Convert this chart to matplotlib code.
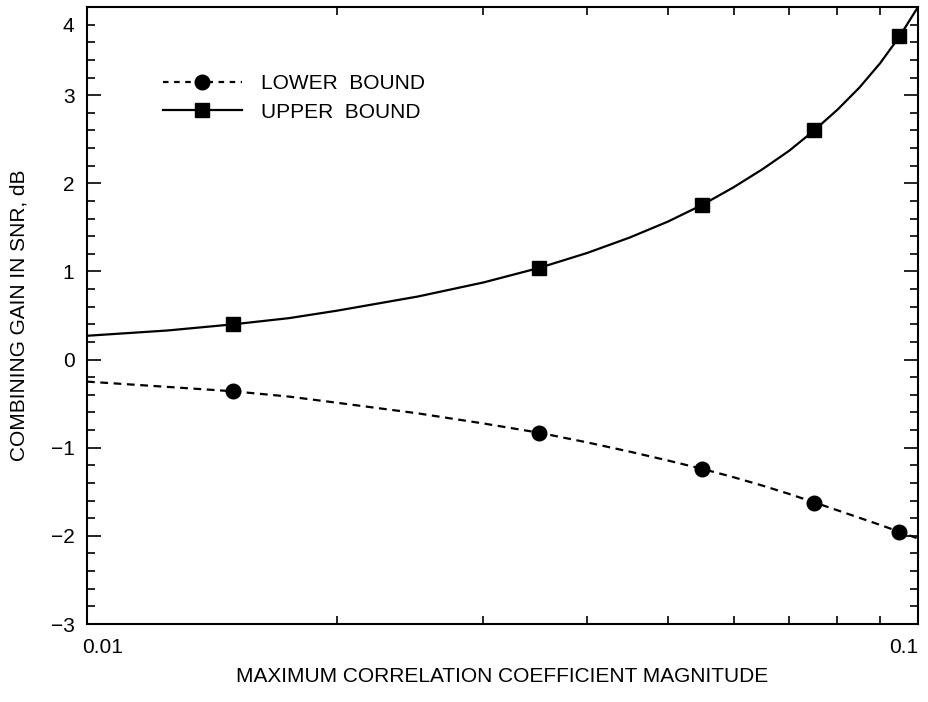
import numpy as np
import matplotlib
matplotlib.use("Agg")
import matplotlib.pyplot as plt
import matplotlib.transforms as mt
from matplotlib.lines import Line2D
from matplotlib.ticker import FixedLocator, FuncFormatter, NullFormatter

plt.rcParams['font.family'] = ['Liberation Sans', 'DejaVu Sans']

# marker points
x_marks = [0.015, 0.035, 0.055, 0.075, 0.095]
upper_marks = [0.40, 1.04, 1.75, 2.60, 3.67]
lower_marks = [-0.36, -0.83, -1.24, -1.625, -1.955]

# curves
x_curve = [0.01, 0.0125, 0.015, 0.0175, 0.02, 0.025, 0.03, 0.035, 0.04, 0.045,
           0.05, 0.055, 0.06, 0.065, 0.07, 0.075, 0.08, 0.085, 0.09, 0.095, 0.1]
upper_curve = [0.27, 0.33, 0.40, 0.47, 0.555, 0.715, 0.875, 1.04, 1.21, 1.385,
               1.565, 1.755, 1.955, 2.16, 2.37, 2.60, 2.835, 3.085, 3.36, 3.665, 4.00]
lower_curve = [-0.25, -0.31, -0.36, -0.42, -0.49, -0.61, -0.725, -0.83, -0.94, -1.045,
               -1.145, -1.24, -1.335, -1.43, -1.525, -1.62, -1.71, -1.795, -1.875, -1.955, -2.03]

y_major = [-3, -2, -1, 0, 1, 2, 3]
y_extra_label = {3.8: '4'}
x_labels = {0.01: '0.01', 0.1: '0.1'}

fig = plt.figure(figsize=(9.29, 7.02), dpi=100)
ax = fig.add_axes([87/929, 78/702, 831/929, 617/702])

ax.set_xscale('log')
ax.set_xlim(0.01, 0.1)
ax.set_ylim(-3, 4)

# curves
ax.plot(x_curve, upper_curve, color='black', lw=1.6, solid_joinstyle='round')
ax.plot(x_curve, lower_curve, color='black', lw=1.6, dashes=(3.5, 2.5))
# markers
ax.plot(x_marks, lower_marks, 'o', color='black', ms=10.5, ls='none')
ax.plot(x_marks, upper_marks, 's', color='black', ms=10.5, ls='none')

# legend
h1 = Line2D([], [], color='black', lw=1.6, dashes=(2.5, 2.5), marker='o', ms=10.5)
h2 = Line2D([], [], color='black', lw=1.6, marker='s', ms=10.5)
leg = ax.legend([h1, h2], ['LOWER  BOUND', 'UPPER  BOUND'], loc='upper left',
                bbox_to_anchor=(0.091, 0.891), frameon=False, fontsize=15,
                handlelength=3.8, handletextpad=0.9, labelspacing=0.45,
                borderpad=0, borderaxespad=0, numpoints=1)

# ticks
for s in ax.spines.values():
    s.set_linewidth(1.5)

ax.yaxis.set_major_locator(FixedLocator(y_major))
ax.yaxis.set_major_formatter(FuncFormatter(lambda v, p: ('%d' % round(v)).replace('-', '\u2212')))
yminor = [v / 5 for v in range(-15, 20) if v % 5 != 0]
ax.yaxis.set_minor_locator(FixedLocator(yminor))
ax.yaxis.set_minor_formatter(FuncFormatter(
    lambda v, p: next((t for k, t in y_extra_label.items() if abs(v - k) < 1e-6), '')))

ax.xaxis.set_major_locator(FixedLocator(list(x_labels.keys())))
ax.xaxis.set_major_formatter(FuncFormatter(
    lambda v, p: next((t for k, t in x_labels.items() if abs(v - k) < 1e-9), '')))
ax.xaxis.set_minor_locator(FixedLocator([0.02, 0.03, 0.04, 0.05, 0.06, 0.07, 0.08, 0.09]))
ax.xaxis.set_minor_formatter(NullFormatter())

ax.tick_params(which='both', direction='in', top=True, right=True, width=1.2,
               labelsize=15, color='black')
ax.tick_params(which='major', length=10)
ax.tick_params(which='minor', length=6)
ax.tick_params(axis='y', which='both', pad=9)
ax.tick_params(axis='x', which='both', pad=10)

labs = ax.get_xticklabels()
labs[0].set_ha('left')
labs[-1].set_ha('right')
labs[0].set_transform(labs[0].get_transform() + mt.ScaledTranslation(-5/100, 0, fig.dpi_scale_trans))

ax.set_xlabel('MAXIMUM CORRELATION COEFFICIENT MAGNITUDE', fontsize=15, labelpad=7)
ax.set_ylabel('COMBINING GAIN IN SNR, dB', fontsize=15, labelpad=16)

fig.savefig('out.png', dpi=100)
